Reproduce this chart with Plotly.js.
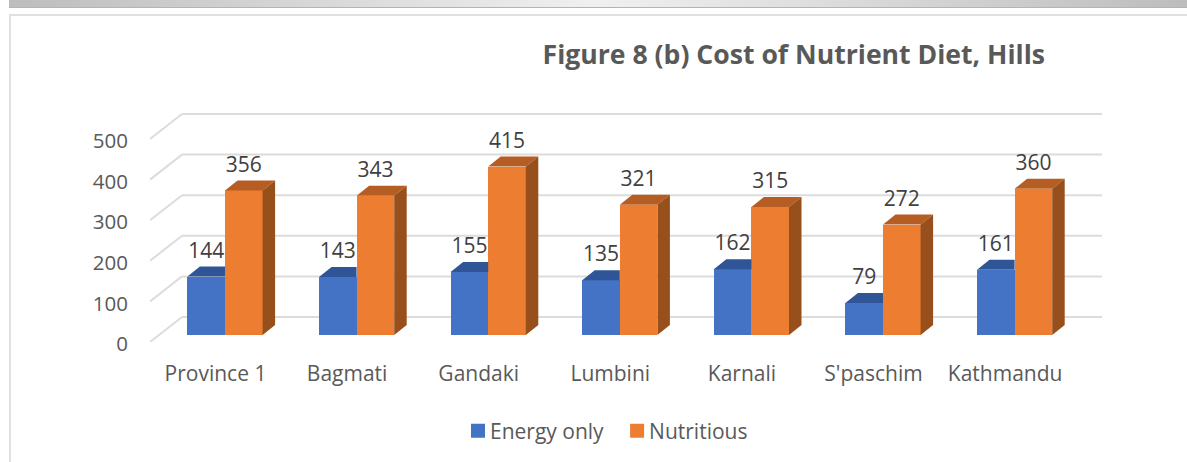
<!DOCTYPE html>
<html>
<head>
<meta charset="utf-8">
<script src="https://cdn.plot.ly/plotly-3.0.1.min.js"></script>
<style>
html,body{margin:0;padding:0;background:#fff;width:1187px;height:462px;overflow:hidden}
#band{position:absolute;left:9px;top:0;width:1178px;height:7px;border-bottom:1px solid #b4b4b4;
 background:linear-gradient(90deg,#bdbdbd 0%,#f0f0f0 50%,#bdbdbd 100%)}
#frame{position:absolute;left:9px;top:14px;width:1178px;height:448px;border-left:2px solid #e0e0e0;border-top:2px solid #e0e0e0;box-sizing:border-box}
#chart{position:absolute;left:0;top:0;width:1187px;height:462px}
</style>
</head>
<body>
<div id="band"></div>
<div id="frame"></div>
<div id="chart"></div>
<script>
const categories = ["Province 1","Bagmati","Gandaki","Lumbini","Karnali","S'paschim","Kathmandu"];
const energyOnly = [144,143,155,135,162,79,161];
const nutritious = [356,343,415,321,315,272,360];
const yTicks = [0,100,200,300,400,500];

// pseudo-3D projection, expressed in axis units
const pxPerCat = 131.6, pxPerVal = 0.406;
const catPx = dx => dx / pxPerCat, valPx = dy => dy / pxPerVal;
const W = 1187, H = 462, plotL = 150, plotR = 1110, plotB = 342, plotT = 112, cat0 = 215.5;
const xRange = [(plotL - cat0) / pxPerCat, (plotR - cat0) / pxPerCat];
const yRange = [0, (plotB - plotT) / pxPerVal];
const barW = catPx(37.6), barShift = catPx(9.5), barBase = valPx(7);
const depthX = catPx(12.5), depthY = valPx(10);
const wallX = catPx(32), wallY = valPx(25);
const wallLeft = xRange[0], wallRight = wallLeft + catPx(920);
const idx = categories.map((_, i) => i);

function loop(list, fn){ const xs=[], ys=[]; list.forEach((v,i)=>{ fn(v,i).forEach(p=>{xs.push(p[0]);ys.push(p[1]);}); xs.push(null); ys.push(null); }); return {x:xs,y:ys}; }
function face(values, fn, color){
  const g = loop(values, fn);
  return {type:'scatter',mode:'lines',x:g.x,y:g.y,fill:'toself',fillcolor:color,line:{width:0,color:color},hoverinfo:'skip',showlegend:false};
}
const barTop = v => barBase + v;
const blueL = i => i + barShift - barW, mid = i => i + barShift, orangeR = i => i + barShift + barW;
const labelFont = {family:'"Open Sans",sans-serif',size:21,color:'#404040'};

const traces = [
 {type:'bar',name:'Energy only',x:idx,y:energyOnly,base:barBase,width:barW,offset:barShift-barW,marker:{color:'#4472c4',line:{width:0}}},
 {type:'bar',name:'Nutritious',x:idx,y:nutritious,base:barBase,width:barW,offset:barShift,marker:{color:'#ed7d31',line:{width:0}}},
 face(energyOnly,(v,i)=>[[blueL(i),barTop(v)],[blueL(i)+depthX,barTop(v)+depthY],[mid(i),barTop(v)+depthY],[mid(i),barTop(v)],[blueL(i),barTop(v)]],'#2f5597'),
 face(nutritious,(v,i)=>[[mid(i),barTop(v)],[mid(i)+depthX,barTop(v)+depthY],[orangeR(i)+depthX,barTop(v)+depthY],[orangeR(i),barTop(v)],[mid(i),barTop(v)]],'#b55d22'),
 face(nutritious,(v,i)=>[[orangeR(i),barBase],[orangeR(i)+depthX,barBase+depthY],[orangeR(i)+depthX,barTop(v)+depthY],[orangeR(i),barTop(v)],[orangeR(i),barBase]],'#974f1c'),
 {type:'scatter',mode:'text',x:idx.map(i=>mid(i)-barW/2),y:energyOnly.map(v=>barTop(v)+valPx(24)),text:energyOnly.map(String),textposition:'middle center',
  textfont:labelFont,hoverinfo:'skip',showlegend:false,cliponaxis:false},
 {type:'scatter',mode:'text',x:idx.map(i=>mid(i)+barW/2),y:nutritious.map(v=>barTop(v)+valPx(24)),text:nutritious.map(String),textposition:'middle center',
  textfont:labelFont,hoverinfo:'skip',showlegend:false,cliponaxis:false}
];

const gridLine = {color:'#dcdcdc',width:2};
const shapes = [];
yTicks.forEach(t=>{
  shapes.push({type:'line',layer:'below',xref:'x',yref:'y',x0:wallLeft+wallX,x1:wallRight+wallX,y0:t+wallY,y1:t+wallY,line:gridLine});
  shapes.push({type:'line',layer:'below',xref:'x',yref:'y',x0:wallLeft,x1:wallLeft+wallX,y0:t,y1:t+wallY,line:gridLine});
});

const layout = {
  width:W,height:H,paper_bgcolor:'rgba(0,0,0,0)',plot_bgcolor:'rgba(0,0,0,0)',
  margin:{l:plotL,r:W-plotR,t:plotT,b:H-plotB,pad:0},
  title:{text:'<b>Figure 8 (b) Cost of Nutrient Diet, Hills</b>',font:{family:'"Open Sans",sans-serif',size:26.6,color:'#595959'},x:796/W,xanchor:'center',y:1-55/H,yanchor:'middle',xref:'paper',yref:'container'},
  font:{family:'"Open Sans",sans-serif',color:'#595959'},
  bargap:0,barmode:'overlay',
  xaxis:{range:xRange,tickmode:'array',tickvals:idx,ticktext:categories,showgrid:false,zeroline:false,showline:false,ticks:'',ticklabelstandoff:17,tickfont:{size:21,color:'#595959'},fixedrange:true},
  yaxis:{range:yRange,tickmode:'array',tickvals:yTicks,showgrid:false,zeroline:false,showline:false,ticks:'',ticklabelstandoff:21,ticklabelshift:2,tickfont:{size:20.5,color:'#595959'},fixedrange:true},
  shapes:shapes,
  showlegend:true,
  legend:{orientation:'h',xref:'container',yref:'container',x:(472-14)/W,xanchor:'left',y:1-431/H,yanchor:'middle',font:{size:21,color:'#595959'},bgcolor:'rgba(0,0,0,0)',traceorder:'normal'}
};
Plotly.newPlot('chart',traces,layout,{displayModeBar:false,responsive:false}).then(()=>{
  // tighten the legend swatch-to-text gap to the reference's
  document.querySelectorAll('.legend .legendtext').forEach(t=>t.setAttribute('x',+t.getAttribute('x')-8));
  document.querySelectorAll('.legend .legendpoints path').forEach(p=>p.setAttribute('d','M7,7H-7V-7H7Z'));
});
</script>
</body>
</html>
